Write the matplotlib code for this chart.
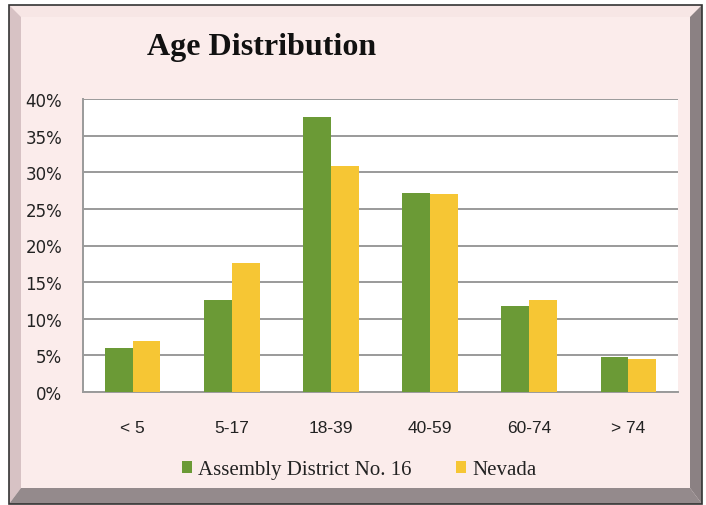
import matplotlib
matplotlib.use("Agg")
import matplotlib.pyplot as plt
from matplotlib.patches import Rectangle, Polygon
import numpy as np

categories = ["< 5", "5-17", "18-39", "40-59", "60-74", "> 74"]
district = [6.0, 12.5, 37.6, 27.2, 11.7, 4.8]
nevada = [6.9, 17.6, 30.8, 27.0, 12.6, 4.5]
yticks = [0, 5, 10, 15, 20, 25, 30, 35, 40]
ytick_labels = ["0%", "5%", "10%", "15%", "20%", "25%", "30%", "35%", "40%"]

W, H = 706, 506
fig = plt.figure(figsize=(W / 100, H / 100), dpi=100)
fig.patch.set_facecolor("white")

# frame with bevel (pixel coordinates in a full-figure overlay axes)
bg = fig.add_axes([0, 0, 1, 1])
bg.set_xlim(0, W)
bg.set_ylim(H, 0)
bg.axis("off")
x0, y0, x1, y1 = 9, 6, 702, 505
bw = 12
bg.add_patch(Rectangle((x0, y0), x1 - x0, y1 - y0, facecolor="#fbeceb", edgecolor="none"))
bg.add_patch(Polygon([(x0, y0), (x1, y0), (x1 - bw, y0 + bw), (x0 + bw, y0 + bw)],
                     closed=True, facecolor="#f7e6e5", edgecolor="none"))
bg.add_patch(Polygon([(x0, y0), (x0 + bw, y0 + bw), (x0 + bw, y1 - 16), (x0, y1)],
                     closed=True, facecolor="#d7c2c4", edgecolor="none"))
bg.add_patch(Polygon([(x1, y0), (x1, y1), (x1 - bw, y1 - 16), (x1 - bw, y0 + bw)],
                     closed=True, facecolor="#8b8183", edgecolor="none"))
bg.add_patch(Polygon([(x0, y1), (x0 + bw, y1 - 16), (x1 - bw, y1 - 16), (x1, y1)],
                     closed=True, facecolor="#948a8c", edgecolor="none"))
bg.add_patch(Rectangle((x0, y0), x1 - x0, y1 - y0, facecolor="none", edgecolor="#333333", lw=1.2))

ax = fig.add_axes([83 / W, 1 - 393 / H, (678 - 83) / W, (393 - 100) / H])
ax.set_facecolor("white")
x = np.arange(len(categories))
w = 0.28
ax.bar(x - w / 2, district, w, color="#6b9a36", label="Assembly District No. 16", zorder=3)
ax.bar(x + w / 2, nevada, w, color="#f6c634", label="Nevada", zorder=3)
ax.set_xlim(-0.5, len(categories) - 0.5)
ax.set_ylim(0, 40)
ax.set_yticks(yticks)
ax.set_yticklabels(ytick_labels, fontfamily="DejaVu Sans", fontsize=12, color="#222222")
ax.set_xticks(x)
ax.set_xticklabels(categories, fontfamily="Liberation Sans", fontsize=12.5, color="#222222")
ax.tick_params(axis="y", length=0, pad=15)
ax.tick_params(axis="x", length=0, pad=20)
ax.grid(axis="y", color="#9a9a9a", lw=1.4, zorder=1)
for s in ["top", "right"]:
    ax.spines[s].set_visible(False)
ax.spines["left"].set_color("#9a9a9a")
ax.spines["left"].set_linewidth(1.4)
ax.spines["bottom"].set_color("#9a9a9a")
ax.spines["bottom"].set_linewidth(1.4)

fig.text(262 / W, 1 - 47 / H, "Age Distribution", ha="center", va="center",
         fontfamily="Liberation Serif", fontweight="bold", fontsize=23, color="#111111")

leg = fig.legend(loc="center", bbox_to_anchor=(359 / W, 1 - 471 / H), ncol=2, frameon=False,
                 prop={"family": "Liberation Serif", "size": 15},
                 handlelength=0.5, handleheight=0.5, handletextpad=0.3, columnspacing=2.1)
for t in leg.get_texts():
    t.set_color("#222222")

fig.savefig("out.png", dpi=100, facecolor=fig.get_facecolor())
